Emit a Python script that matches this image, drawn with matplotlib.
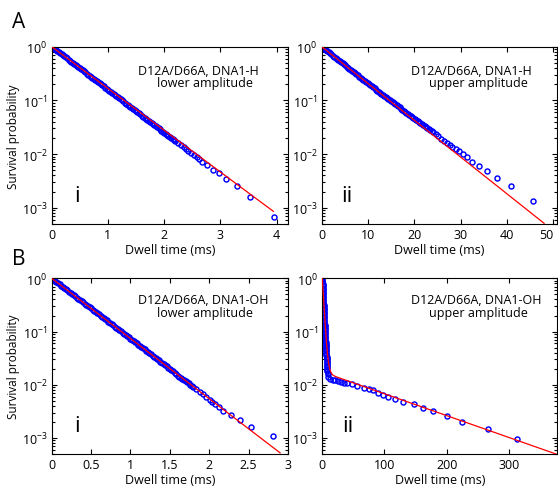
import numpy as np
import matplotlib
matplotlib.use("Agg")
import matplotlib.pyplot as plt
from matplotlib.ticker import LogLocator, NullFormatter

plt.rcParams['font.family'] = ['Open Sans', 'DejaVu Sans']
plt.rcParams['mathtext.default'] = 'regular'

# ---------------- data (dwell time in ms, log10 survival probability) ----------------
# Panel A-i : D12A/D66A, DNA1-H, lower amplitude
ai_x = [0.000, 0.025, 0.050, 0.075, 0.100, 0.125, 0.150, 0.175, 0.200, 0.225,
        0.250, 0.275, 0.300, 0.325, 0.350, 0.375, 0.400, 0.425, 0.450, 0.475,
        0.500, 0.525, 0.550, 0.575, 0.600, 0.625, 0.650, 0.675, 0.700, 0.725,
        0.750, 0.775, 0.800, 0.825, 0.850, 0.875, 0.900, 0.925, 0.950, 0.975,
        1.000, 1.025, 1.050, 1.075, 1.100, 1.125, 1.150, 1.175, 1.200, 1.225,
        1.250, 1.275, 1.300, 1.325, 1.350, 1.375, 1.400, 1.425, 1.450, 1.475,
        1.500, 1.525, 1.550, 1.575, 1.600, 1.625, 1.650, 1.675, 1.700, 1.725,
        1.750, 1.775, 1.800, 1.825, 1.850, 1.875, 1.900, 1.925, 1.950, 1.975,
        2.000, 2.025, 2.050, 2.075, 2.100, 2.125, 2.150, 2.175,
        2.20, 2.25, 2.30, 2.35, 2.39, 2.43, 2.48, 2.53, 2.58, 2.62, 2.68, 2.76,
        2.87, 2.97, 3.10, 3.29, 3.53, 3.95]
ai_logp = [0.000, -0.019, -0.039, -0.059, -0.079, -0.099, -0.119, -0.139, -0.159, -0.179,
           -0.199, -0.219, -0.239, -0.259, -0.279, -0.299, -0.319, -0.339, -0.359, -0.379,
           -0.399, -0.419, -0.439, -0.459, -0.479, -0.499, -0.519, -0.539, -0.559, -0.579,
           -0.599, -0.619, -0.639, -0.659, -0.679, -0.700, -0.720, -0.740, -0.760, -0.780,
           -0.800, -0.820, -0.840, -0.860, -0.880, -0.900, -0.920, -0.940, -0.960, -0.980,
           -1.000, -1.020, -1.040, -1.060, -1.080, -1.101, -1.121, -1.141, -1.161, -1.181,
           -1.201, -1.221, -1.241, -1.261, -1.281, -1.301, -1.321, -1.341, -1.361, -1.381,
           -1.401, -1.421, -1.441, -1.461, -1.481, -1.501, -1.521, -1.541, -1.561, -1.581,
           -1.601, -1.621, -1.641, -1.661, -1.681, -1.701, -1.720, -1.738,
           -1.75, -1.79, -1.83, -1.87, -1.90, -1.94, -1.98, -2.01, -2.06, -2.10, -2.15, -2.20,
           -2.29, -2.35, -2.47, -2.60, -2.80, -3.17]
ai_fit_x = [0.0, 3.94]
ai_fit_p = [1.0, 8.6e-4]

# Panel A-ii : D12A/D66A, DNA1-H, upper amplitude
aii_x = [0.0, 0.3, 0.6, 0.9, 1.2, 1.5, 1.8, 2.1, 2.4, 2.7, 3.0, 3.3, 3.6, 3.9, 4.2, 4.5,
         4.8, 5.1, 5.4, 5.7, 6.0, 6.3, 6.6, 6.9, 7.2, 7.5, 7.8, 8.1, 8.4, 8.7, 9.0, 9.3,
         9.6, 9.9, 10.2, 10.5, 10.8, 11.1, 11.4, 11.7, 12.0, 12.3, 12.6, 12.9, 13.2, 13.5,
         13.8, 14.1, 14.4, 14.7, 15.0, 15.3, 15.6, 15.9, 16.2, 16.5, 16.8, 17.1, 17.4, 17.7,
         18.0, 18.3, 18.6, 18.9, 19.2, 19.5, 19.8, 20.1, 20.4, 20.7, 21.0, 21.3, 21.6, 21.9,
         22.2, 22.5, 22.8, 23.1, 23.4, 23.7, 24.0,
         24.6, 25.2, 25.8, 26.4, 27.0, 27.6, 28.2, 28.9, 29.6, 30.4, 31.3, 32.5, 34.0, 35.6,
         37.9, 40.9, 45.5]
aii_logp = [0.000, -0.021, -0.041, -0.062, -0.082, -0.103, -0.123, -0.144, -0.164, -0.185,
            -0.206, -0.226, -0.247, -0.267, -0.288, -0.308, -0.329, -0.349, -0.370, -0.390,
            -0.411, -0.432, -0.452, -0.473, -0.493, -0.514, -0.534, -0.555, -0.575, -0.596,
            -0.616, -0.637, -0.657, -0.677, -0.697, -0.717, -0.737, -0.757, -0.777, -0.797,
            -0.817, -0.837, -0.857, -0.876, -0.896, -0.915, -0.935, -0.955, -0.975, -0.994,
            -1.014, -1.034, -1.053, -1.073, -1.092, -1.112, -1.131, -1.151, -1.170, -1.190,
            -1.209, -1.228, -1.247, -1.267, -1.286, -1.306, -1.325, -1.345, -1.364, -1.383,
            -1.402, -1.422, -1.441, -1.461, -1.480, -1.499, -1.518, -1.538, -1.557, -1.577,
            -1.596,
            -1.63, -1.67, -1.71, -1.75, -1.79, -1.83, -1.87, -1.91, -1.95, -2.00, -2.06, -2.15,
            -2.23, -2.32, -2.44, -2.60, -2.87]
aii_fit_x = [0.0, 48.0]
aii_fit_p = [1.0, 5.15e-4]

# Panel B-i : D12A/D66A, DNA1-OH, lower amplitude
bi_x = [0.00, 0.02, 0.04, 0.06, 0.08, 0.10, 0.12, 0.14, 0.16, 0.18, 0.20, 0.22, 0.24, 0.26,
        0.28, 0.30, 0.32, 0.34, 0.36, 0.38, 0.40, 0.42, 0.44, 0.46, 0.48, 0.50, 0.52, 0.54,
        0.56, 0.58, 0.60, 0.62, 0.64, 0.66, 0.68, 0.70, 0.72, 0.74, 0.76, 0.78, 0.80, 0.82,
        0.84, 0.86, 0.88, 0.90, 0.92, 0.94, 0.96, 0.98, 1.00, 1.02, 1.04, 1.06, 1.08, 1.10,
        1.12, 1.14, 1.16, 1.18, 1.20, 1.22, 1.24, 1.26, 1.28, 1.30, 1.32, 1.34, 1.36, 1.38,
        1.40, 1.42, 1.44, 1.46, 1.48, 1.50, 1.52, 1.54, 1.56, 1.58, 1.60, 1.62, 1.64, 1.66,
        1.68, 1.70, 1.72, 1.74, 1.76, 1.78, 1.80,
        1.837, 1.879, 1.922, 1.964, 2.006, 2.040, 2.079, 2.121, 2.177, 2.279, 2.388, 2.524,
        2.808]
bi_logp = [0.000, -0.023, -0.045, -0.068, -0.090, -0.113, -0.136, -0.158, -0.181, -0.204,
           -0.226, -0.249, -0.272, -0.294, -0.317, -0.339, -0.362, -0.385, -0.408, -0.430,
           -0.453, -0.475, -0.498, -0.521, -0.544, -0.566, -0.589, -0.611, -0.634, -0.656,
           -0.680, -0.702, -0.725, -0.747, -0.770, -0.792, -0.815, -0.838, -0.861, -0.883,
           -0.906, -0.928, -0.951, -0.974, -0.997, -1.019, -1.042, -1.065, -1.088, -1.110,
           -1.133, -1.155, -1.178, -1.201, -1.224, -1.246, -1.269, -1.291, -1.314, -1.337,
           -1.360, -1.382, -1.405, -1.428, -1.451, -1.473, -1.496, -1.519, -1.542, -1.565,
           -1.588, -1.611, -1.634, -1.657, -1.680, -1.703, -1.726, -1.749, -1.772, -1.800,
           -1.830, -1.850, -1.870, -1.891, -1.912, -1.933, -1.955, -1.976, -1.998, -2.019,
           -2.040,
           -2.089, -2.138, -2.183, -2.226, -2.282, -2.325, -2.363, -2.413, -2.488, -2.563,
           -2.663, -2.788, -2.963]
bi_fit_x = [0.0, 2.90]
bi_fit_p = [1.0, 5.25e-4]

# Panel B-ii : D12A/D66A, DNA1-OH, upper amplitude
bii_x = [0.0, 0.1, 0.2, 0.3, 0.4, 0.5, 0.6, 0.7, 0.8, 0.9, 1.0, 1.1, 1.2, 1.3, 1.4, 1.5,
         1.6, 1.7, 1.8, 1.9, 2.0, 2.1, 2.2, 2.3, 2.4, 2.5, 2.6, 2.7, 2.8, 2.9, 3.0, 3.1,
         3.2, 3.325, 3.45, 3.575, 3.7, 3.825, 3.95, 4.075, 4.2, 4.325, 4.45, 4.575, 4.7,
         4.825, 4.95, 5.075, 5.2, 5.35, 5.5, 5.65, 5.8, 5.95, 6.1, 6.25, 6.4, 6.55, 6.7,
         6.85, 7.0, 7.13, 7.25, 7.38, 7.5, 7.62, 7.75, 7.88, 8.0, 8.15, 8.3, 8.55, 8.8,
         9.7, 12.3, 16.6, 20.4, 24.7, 30.0, 34.9, 40.2, 47.2, 55.3, 67.6, 75.6, 82.1, 89.1,
         98.2, 106.2, 116.9, 129.3, 147.5, 161.5, 177.6, 201.2, 224.2, 267.2, 312.8]
bii_logp = [0.000, -0.025, -0.050, -0.075, -0.100, -0.125, -0.150, -0.175, -0.200, -0.225,
            -0.250, -0.275, -0.300, -0.325, -0.350, -0.375, -0.400, -0.425, -0.450, -0.475,
            -0.500, -0.525, -0.550, -0.575, -0.600, -0.625, -0.650, -0.675, -0.700, -0.725,
            -0.750, -0.775, -0.800, -0.825, -0.850, -0.875, -0.900, -0.925, -0.950, -0.975,
            -1.000, -1.025, -1.050, -1.075, -1.100, -1.125, -1.150, -1.175, -1.200, -1.225,
            -1.250, -1.275, -1.300, -1.325, -1.350, -1.375, -1.400, -1.425, -1.450, -1.475,
            -1.500, -1.525, -1.550, -1.575, -1.600, -1.625, -1.650, -1.675, -1.700, -1.725,
            -1.750, -1.775, -1.800,
            -1.856, -1.888, -1.906, -1.919, -1.931, -1.950, -1.963, -1.975, -1.994, -2.031,
            -2.063, -2.081, -2.106, -2.150, -2.188, -2.231, -2.275, -2.325, -2.369, -2.431,
            -2.500, -2.588, -2.694, -2.825, -3.019]
# two-exponential fit parameters: amplitudes and time constants (ms)
bii_fit_amp = [0.9826, 0.0174]
bii_fit_tau = [2.2, 105.9]

# ---------------- layout ----------------
fig = plt.figure(figsize=(5.58, 4.89), dpi=100)
W, H = 558.0, 489.0

def axes_px(l, t, r, b):
    return fig.add_axes([l / W, 1 - b / H, (r - l) / W, (b - t) / H])

ax_ai = axes_px(51.7, 47.7, 288.0, 225.0)
ax_aii = axes_px(321.7, 47.7, 557.3, 225.0)
ax_bi = axes_px(51.7, 279.3, 288.0, 455.0)
ax_bii = axes_px(322.3, 279.3, 557.3, 455.0)

def style(ax, xlim, xticks, xticklabels, ylabel):
    ax.set_yscale('log')
    ax.set_ylim(5e-4, 1.0)
    ax.set_xlim(*xlim)
    ax.set_xticks(xticks)
    ax.set_xticklabels(xticklabels)
    ax.yaxis.set_major_locator(LogLocator(base=10, numticks=10))
    ax.yaxis.set_minor_locator(LogLocator(base=10, subs=np.arange(2, 10), numticks=10))
    ax.yaxis.set_minor_formatter(NullFormatter())
    ax.tick_params(which='both', direction='in', top=True, right=True, labelsize=9,
                   width=0.8, pad=3)
    ax.tick_params(which='major', length=3.5)
    ax.tick_params(which='minor', length=2)
    ax.tick_params(axis='x', which='minor', top=False, bottom=False)
    for s in ax.spines.values():
        s.set_linewidth(0.8)
    ax.set_xlabel('Dwell time (ms)', fontsize=9, labelpad=1)
    if ylabel:
        ax.set_ylabel('Survival probability', fontsize=8.5, labelpad=1)

def draw(ax, x, logp, fx, fp):
    ax.plot(x, np.power(10.0, logp), linestyle='none', marker='o', ms=3.6,
            mfc='none', mec=(0, 0, 1), mew=1.05, zorder=2)
    ax.plot(fx, fp, color=(1, 0, 0), lw=0.9, zorder=3)

draw(ax_ai, ai_x, ai_logp, ai_fit_x, ai_fit_p)
draw(ax_aii, aii_x, aii_logp, aii_fit_x, aii_fit_p)
draw(ax_bi, bi_x, bi_logp, bi_fit_x, bi_fit_p)
t_fit = np.linspace(0, 380, 2000)
p_fit = (bii_fit_amp[0] * np.exp(-t_fit / bii_fit_tau[0])
         + bii_fit_amp[1] * np.exp(-t_fit / bii_fit_tau[1]))
draw(ax_bii, bii_x, bii_logp, t_fit, p_fit)

style(ax_ai, (0, 4.2), [0, 1, 2, 3, 4], ['0', '1', '2', '3', '4'], True)
style(ax_aii, (0, 50.85), [0, 10, 20, 30, 40, 50], ['0', '10', '20', '30', '40', '50'], False)
style(ax_bi, (0, 3.0), [0, 0.5, 1, 1.5, 2, 2.5, 3], ['0', '0.5', '1', '1.5', '2', '2.5', '3'], True)
style(ax_bii, (0, 378), [0, 100, 200, 300], ['0', '100', '200', '300'], False)
# keep the last tick label of panel A-ii inside the picture
ax_aii.get_xticklabels()[-1].set_horizontalalignment('right')

def note(ax, l1, l2, x1, x2, y1, y2):
    ax.text(x1, y1, l1, transform=ax.transAxes, ha='center', va='center', fontsize=9)
    ax.text(x2, y2, l2, transform=ax.transAxes, ha='center', va='center', fontsize=9)

note(ax_ai, 'D12A/D66A, DNA1-H', 'lower amplitude', 0.619, 0.649, 0.863, 0.797)
note(ax_aii, 'D12A/D66A, DNA1-H', 'upper amplitude', 0.635, 0.665, 0.863, 0.797)
note(ax_bi, 'D12A/D66A, DNA1-OH', 'lower amplitude', 0.642, 0.647, 0.882, 0.806)
note(ax_bii, 'D12A/D66A, DNA1-OH', 'upper amplitude', 0.653, 0.665, 0.882, 0.806)

for ax, lab, xx in [(ax_ai, 'i', 0.095), (ax_aii, 'ii', 0.083),
                    (ax_bi, 'i', 0.095), (ax_bii, 'ii', 0.083)]:
    ax.text(xx, 0.13, lab, transform=ax.transAxes, ha='left', va='baseline', fontsize=16)

fig.text(19 / W, 1 - 22 / H, 'A', ha='center', va='center', fontsize=15)
fig.text(19 / W, 1 - 260 / H, 'B', ha='center', va='center', fontsize=15)

fig.savefig('out.png', dpi=100)
